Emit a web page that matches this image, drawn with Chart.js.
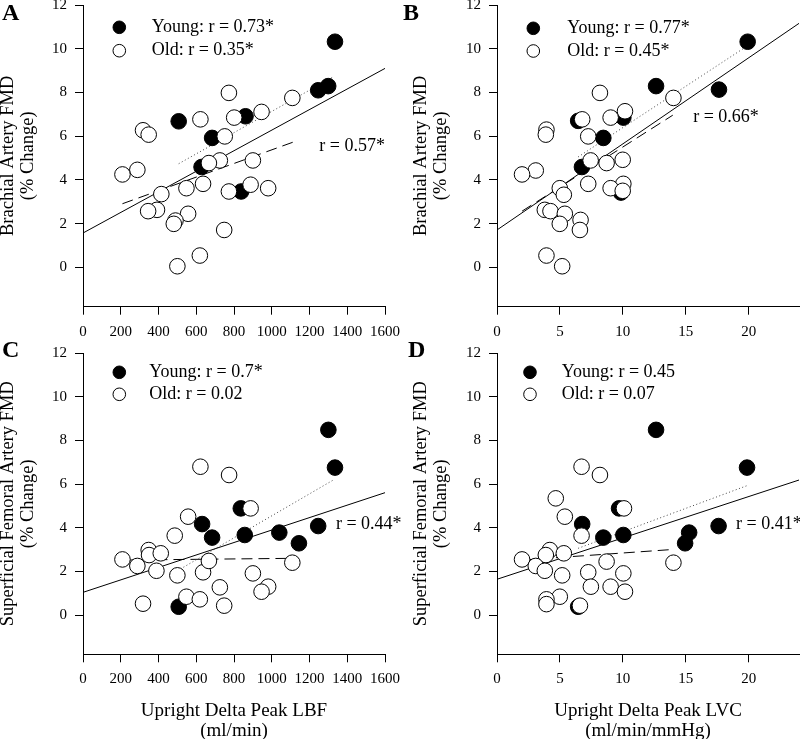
<!DOCTYPE html>
<html>
<head>
<meta charset="utf-8">
<script src="https://cdn.jsdelivr.net/npm/chart.js@4.4.0/dist/chart.umd.min.js"></script>
<style>
  html, body { margin: 0; padding: 0; background: #fff; overflow: hidden; }
  body { width: 800px; height: 739px; position: relative; }
  canvas { position: absolute; }
</style>
</head>
<body>
<canvas id="chartA" width="410" height="359" style="left:0px;top:-20px"></canvas>
<canvas id="chartB" width="410" height="359" style="left:400px;top:-20px"></canvas>
<canvas id="chartC" width="410" height="422" style="left:0px;top:319px"></canvas>
<canvas id="chartD" width="410" height="422" style="left:400px;top:319px"></canvas>
<script>
// tick values
const xTicksLBF = [0, 200, 400, 600, 800, 1000, 1200, 1400, 1600];
const xTicksLVC = [0, 5, 10, 15, 20];
const yTicksFMD = [0, 2, 4, 6, 8, 10, 12];

// A: brachial FMD vs LBF
const youngA = [[1335,10.32],[1299,8.29],[1246,8.10],[507,6.68],[861,6.91],[684,5.92],[628,4.59],[838,3.47]];
const oldA = [[773,7.98],[1109,7.75],[946,7.11],[801,6.85],[622,6.77],[318,6.27],[348,6.07],[751,5.99],[725,4.89],[667,4.77],[900,4.89],[288,4.46],[209,4.25],[636,3.82],[548,3.62],[888,3.78],[981,3.62],[773,3.47],[415,3.35],[392,2.63],[345,2.57],[557,2.45],[490,2.14],[481,1.99],[748,1.71],[619,0.54],[500,0.05]];
const fitAllA = [[0,1.57],[1600,9.10]];
const fitYoungA = [[507,4.74],[1321,8.69]];
const fitOldA = [[209,2.91],[1114,5.73]];
const legendA = ["Young: r = 0.73*", "Old: r = 0.35*"];

// B: brachial FMD vs LVC
const youngB = [[19.92,10.32],[12.64,8.29],[17.64,8.13],[6.45,6.70],[10.04,6.85],[8.45,5.92],[6.75,4.59],[9.85,3.42]];
const oldB = [[8.18,7.98],[14.02,7.75],[10.17,7.14],[9.03,6.85],[6.77,6.77],[3.93,6.30],[3.88,6.07],[7.25,5.99],[7.44,4.89],[8.71,4.77],[9.99,4.92],[3.08,4.43],[1.99,4.25],[7.25,3.82],[4.99,3.62],[10.04,3.82],[9.03,3.62],[9.99,3.50],[5.31,3.32],[3.80,2.63],[4.25,2.57],[5.39,2.45],[6.64,2.17],[4.99,1.99],[6.59,1.71],[3.93,0.54],[5.18,0.05]];
const fitAllB = [[0,1.71],[24,11.16]];
const fitYoungB = [[6.45,5.05],[20,10.17]];
const fitOldB = [[1.99,2.57],[13.97,6.96]];
const legendB = ["Young: r = 0.77*", "Old: r = 0.45*"];

// C: femoral FMD vs LBF
const youngC = [[1300,8.49],[1335,6.76],[836,4.89],[631,4.17],[684,3.55],[857,3.67],[1040,3.78],[1246,4.08],[1144,3.29],[507,0.38]];
const oldC = [[622,6.80],[774,6.42],[888,4.89],[557,4.51],[486,3.64],[348,2.98],[350,2.75],[412,2.83],[209,2.55],[288,2.25],[389,2.03],[500,1.82],[636,1.96],[667,2.48],[900,1.91],[1109,2.40],[725,1.27],[981,1.30],[946,1.07],[548,0.84],[619,0.72],[748,0.43],[318,0.52]];
const fitAllC = [[0,1.04],[1600,5.61]];
const fitYoungC = [[500,2.03],[1326,6.19]];
const fitOldC = [[209,2.52],[1109,2.60]];
const legendC = ["Young: r = 0.7*", "Old: r = 0.02"];

// D: femoral FMD vs LVC
const youngD = [[12.64,8.49],[19.87,6.76],[9.70,4.89],[6.77,4.17],[8.45,3.55],[10.04,3.67],[15.27,3.78],[17.61,4.08],[14.95,3.29],[6.45,0.38]];
const oldD = [[6.72,6.80],[8.18,6.42],[10.09,4.89],[4.67,5.35],[5.39,4.51],[6.72,3.64],[4.20,2.98],[3.88,2.75],[5.31,2.83],[1.99,2.55],[3.08,2.25],[3.80,2.03],[5.18,1.82],[8.71,2.45],[7.25,1.96],[10.04,1.91],[14.02,2.40],[7.46,1.30],[9.03,1.30],[10.17,1.07],[4.99,0.84],[3.93,0.72],[3.93,0.50],[6.59,0.43]];
const fitAllD = [[0,1.64],[24,6.19]];
const fitYoungD = [[6.45,3.06],[20,5.96]];
const fitOldD = [[1.99,2.52],[14.07,3.01]];
const legendD = ["Young: r = 0.45", "Old: r = 0.07"];

const SERIF = '"Liberation Serif", "Times New Roman", serif';
Chart.defaults.font.family = SERIF;
Chart.defaults.color = '#000';

const toPts = arr => arr.map(p => ({ x: p[0], y: p[1] }));

// panel letter, legend and r label
const panelText = {
  id: 'panelText',
  afterDatasetsDraw(chart, args, o) {
    const ctx = chart.ctx, area = chart.chartArea;
    ctx.save();
    ctx.fillStyle = '#000';
    ctx.font = 'bold 24px ' + SERIF;
    ctx.textAlign = 'left';
    ctx.textBaseline = 'alphabetic';
    ctx.fillText(o.letter, o.letterX, o.letterY);

    ctx.font = '18px ' + SERIF;
    ctx.textBaseline = 'middle';
    o.legend.forEach((txt, i) => {
      const cy = area.top + o.legendTops[i];
      ctx.beginPath();
      ctx.arc(area.left + o.legendLeft, cy, 6.3, 0, Math.PI * 2);
      ctx.fillStyle = i === 0 ? '#000' : '#fff';
      ctx.fill();
      ctx.lineWidth = 1;
      ctx.strokeStyle = '#000';
      ctx.stroke();
      ctx.fillStyle = '#000';
      ctx.fillText(txt, area.left + o.legendTextLeft, cy);
    });

    ctx.textAlign = o.rAlign;
    ctx.fillText(o.rText, chart.scales.x.getPixelForValue(o.rX), chart.scales.y.getPixelForValue(o.rY));
    ctx.restore();
  }
};

function makeChart(id, p) {
  new Chart(document.getElementById(id), {
    type: 'scatter',
    data: {
      datasets: [
        { label: 'Old', data: toPts(p.old), pointRadius: 7.8, pointBorderWidth: 1,
          pointBackgroundColor: '#fff', pointBorderColor: '#000' },
        { label: 'Young', data: toPts(p.young), pointRadius: 7.8, pointBorderWidth: 1,
          pointBackgroundColor: '#000', pointBorderColor: '#000' },
        { label: 'All', data: toPts(p.fitAll), showLine: true, pointRadius: 0,
          borderColor: '#000', borderWidth: 1 },
        { label: 'Young fit', data: toPts(p.fitYoung), showLine: true, pointRadius: 0,
          borderColor: '#444', borderWidth: 1, borderDash: [1, 2.5] },
        { label: 'Old fit', data: toPts(p.fitOld), showLine: true, pointRadius: 0,
          borderColor: '#000', borderWidth: 1, borderDash: [11, 6] }
      ]
    },
    options: {
      responsive: false,
      animation: false,
      events: [],
      layout: { padding: p.padding },
      plugins: {
        legend: { display: false },
        tooltip: { enabled: false },
        panelText: p.text
      },
      scales: {
        x: {
          type: 'linear', min: 0, max: p.xMax,
          afterBuildTicks: s => { s.ticks = p.xTicks.map(v => ({ value: v })); },
          afterFit: s => { s.height = p.xHeight; },
          grid: { drawOnChartArea: false, drawTicks: true, tickLength: 8, color: '#000', lineWidth: 1 },
          border: { display: true, color: '#000', width: 1 },
          ticks: { font: { size: 15 }, color: '#000', padding: 8, maxRotation: 0, autoSkip: false,
                   callback: v => String(v) },
          title: p.xTitle
            ? { display: true, text: p.xTitle, font: { size: 19, lineHeight: 1.053 }, padding: { top: 0, bottom: 0 } }
            : { display: false }
        },
        y: {
          type: 'linear', min: -1.8, max: 12,
          afterBuildTicks: s => { s.ticks = yTicksFMD.map(v => ({ value: v })); },
          afterFit: s => { s.width = p.yWidth; },
          grid: { drawOnChartArea: false, drawTicks: true, tickLength: 8, color: '#000', lineWidth: 1 },
          border: { display: true, color: '#000', width: 1 },
          ticks: { font: { size: 15 }, color: '#000', padding: 8, callback: v => String(v) },
          title: { display: true, text: p.yTitle, font: { size: 18.5, lineHeight: 1.08 },
                   padding: { top: p.yTitlePad, bottom: 0 } }
        }
      }
    },
    plugins: [panelText]
  });
}

makeChart('chartA', {
  young: youngA, old: oldA, fitAll: fitAllA, fitYoung: fitYoungA, fitOld: fitOldA,
  xMax: 1600, xTicks: xTicksLBF, xHeight: 32.3, yWidth: 83,
  padding: { top: 25, right: 25, left: 0, bottom: 0 },
  yTitle: ["Brachial Artery FMD", "(% Change)"], yTitlePad: -2,
  text: { letter: 'A', letterX: 2, letterY: 40, legend: legendA,
          legendLeft: 36.3, legendTops: [22.3, 45.7], legendTextLeft: 68.7,
          rText: 'r = 0.57*', rX: 1600, rY: 5.56, rAlign: 'right' }
});

makeChart('chartB', {
  young: youngB, old: oldB, fitAll: fitAllB, fitYoung: fitYoungB, fitOld: fitOldB,
  xMax: 24, xTicks: xTicksLVC, xHeight: 32.3, yWidth: 97,
  padding: { top: 25, right: 11, left: 0, bottom: 0 },
  yTitle: ["Brachial Artery FMD", "(% Change)"], yTitlePad: 11,
  text: { letter: 'B', letterX: 3, letterY: 40, legend: legendB,
          legendLeft: 36.3, legendTops: [23.3, 46], legendTextLeft: 70.3,
          rText: 'r = 0.66*', rX: 15.59, rY: 6.88, rAlign: 'left' }
});

makeChart('chartC', {
  young: youngC, old: oldC, fitAll: fitAllC, fitYoung: fitYoungC, fitOld: fitOldC,
  xMax: 1600, xTicks: xTicksLBF, xHeight: 86.7, yWidth: 83,
  padding: { top: 34.3, right: 25, left: 0, bottom: 0 },
  xTitle: ["Upright Delta Peak LBF", "(ml/min)"],
  yTitle: ["Superficial Femoral Artery FMD", "(% Change)"], yTitlePad: -2,
  text: { letter: 'C', letterX: 2, letterY: 38, legend: legendC,
          legendLeft: 36.3, legendTops: [19, 41], legendTextLeft: 66.3,
          rText: 'r = 0.44*', rX: 1340, rY: 4.17, rAlign: 'left' }
});

makeChart('chartD', {
  young: youngD, old: oldD, fitAll: fitAllD, fitYoung: fitYoungD, fitOld: fitOldD,
  xMax: 24, xTicks: xTicksLVC, xHeight: 86.7, yWidth: 97,
  padding: { top: 34.3, right: 11, left: 0, bottom: 0 },
  xTitle: ["Upright Delta Peak LVC", "(ml/min/mmHg)"],
  yTitle: ["Superficial Femoral Artery FMD", "(% Change)"], yTitlePad: 11,
  text: { letter: 'D', letterX: 8, letterY: 38, legend: legendD,
          legendLeft: 33, legendTops: [19, 41], legendTextLeft: 64.7,
          rText: 'r = 0.41*', rX: 19.0, rY: 4.17, rAlign: 'left' }
});
</script>
</body>
</html>
